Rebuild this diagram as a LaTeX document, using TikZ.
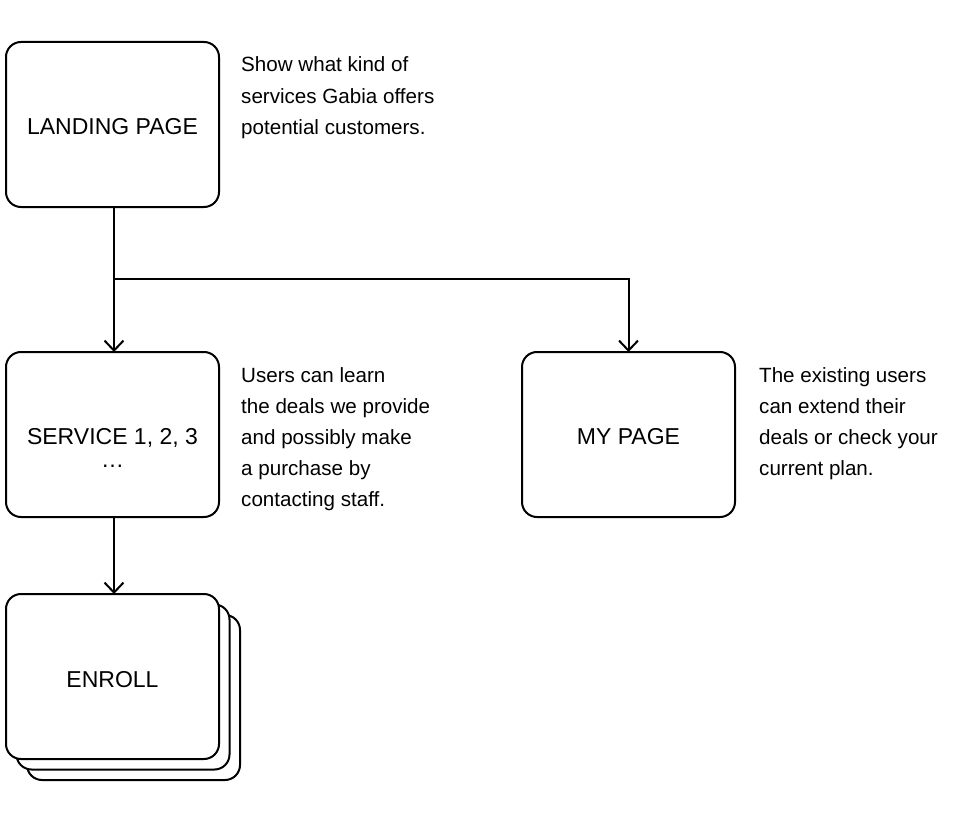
\documentclass[tikz,border=0pt]{standalone}
\usepackage{fontspec}
\setmainfont{Liberation Sans}
\usetikzlibrary{arrows.meta}
\begin{document}
\begin{tikzpicture}[x=1pt,y=-1pt,
  box/.style={draw=black, line width=2pt, rounded corners=15pt, fill=white,
    minimum width=213pt, minimum height=165pt, inner sep=0pt, outer sep=0pt},
  lbl/.style={font=\fontsize{23}{23}\selectfont, inner sep=0pt},
  side/.style={font=\fontsize{20.6}{31}\selectfont, inner sep=0pt, anchor=base west},
  arr/.style={line width=2pt, -{Straight Barb[length=10pt,width=19pt,line width=2pt]}}]
\useasboundingbox (0,0) rectangle (954,816);
\fill[white] (0,0) rectangle (954,816);

% boxes
\node[box] (L) at (112.5,124.5) {};
\node[box] (S) at (112.5,434.5) {};
\node[box] (M) at (628.5,434.5) {};
\node[box] (E3) at (133.5,697.5) {};
\node[box] (E2) at (123,687) {};
\node[box] (E) at (112.5,676.5) {};

% labels
\node[lbl, anchor=base] (Lt) at (112.5,134) {LANDING PAGE};
\node[lbl, anchor=base] (St) at (112.5,444) {SERVICE 1, 2, 3};
\node[lbl, anchor=base] (Sd) at (112.5,467) {…};
\node[lbl, anchor=base] (Mt) at (628.5,444) {MY PAGE};
\node[lbl, anchor=base] (Et) at (112.5,687) {ENROLL};

% side texts
\node[side] (n1a) at (241,72) {Show what kind of};
\node[side] (n1b) at (241,103) {services Gabia offers};
\node[side] (n1c) at (241,134) {potential customers.};

\node[side] (n2a) at (241,382) {Users can learn};
\node[side] (n2b) at (241,413) {the deals we provide};
\node[side] (n2c) at (241,444) {and possibly make};
\node[side] (n2d) at (241,475) {a purchase by};
\node[side] (n2e) at (241,506) {contacting staff.};

\node[side] (n3a) at (759,382) {The existing users};
\node[side] (n3b) at (759,413) {can extend their};
\node[side] (n3c) at (759,444) {deals or check your};
\node[side] (n3d) at (759,475) {current plan.};

% connectors
\coordinate (J) at (114,279);
\draw[arr] ([xshift=1.5pt]L.south) -- ([xshift=1.5pt]S.north);
\draw[arr] (J) -| (M.north);
\draw[arr] ([xshift=1.5pt]S.south) -- ([xshift=1.5pt]E.north);
\end{tikzpicture}
\end{document}
